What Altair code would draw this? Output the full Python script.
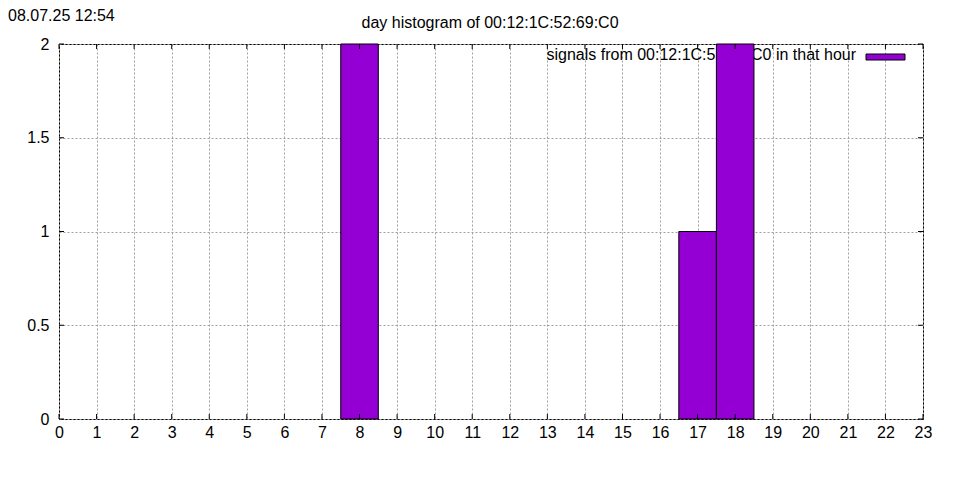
import altair as alt
import pandas as pd

hours = list(range(24))
counts = [0, 0, 0, 0, 0, 0, 0, 0, 2, 0, 0, 0, 0, 0, 0, 0, 0, 1, 2, 0, 0, 0, 0, 0]
y_ticks = [0, 0.5, 1, 1.5, 2]
title_text = "day histogram of 00:12:1C:52:69:C0"
stamp_text = "08.07.25 12:54"
legend_text = "signals from 00:12:1C:52:69:C0 in that hour"

W, H = 864, 375
FONT = "Liberation Sans"
PURPLE = "#9400D3"
GRID = "#a0a0a0"
DASH = [2, 2]
TICK = 5

df = pd.DataFrame({"hour": hours, "count": counts})
df_bars = df[df["count"] > 0].copy()
df_bars["x0"] = df_bars["hour"] - 0.5
df_bars["x1"] = df_bars["hour"] + 0.5
df_bars["base"] = 0
df_y = pd.DataFrame({"v": y_ticks})
one = pd.DataFrame({"k": [0]})

xscale = alt.Scale(domain=[0, 23], nice=False, zero=False)
yscale = alt.Scale(domain=[0, 2], nice=False)

x_axis = alt.Axis(values=hours, grid=True, gridDash=DASH, gridColor=GRID, gridOpacity=1,
                  tickSize=0, labelPadding=5, labelFontSize=16, labelFont=FONT,
                  labelColor="black", domain=False, title=None, labelFlush=False,
                  labelOverlap=False)
y_axis = alt.Axis(values=y_ticks, grid=True, gridDash=DASH, gridColor=GRID, gridOpacity=1,
                  tickSize=0, labelPadding=10, labelFontSize=16, labelFont=FONT,
                  labelColor="black", domain=False, title=None, format="~g",
                  labelFlush=False, labelOverlap=False)


def X(field):
    return alt.X(field, scale=xscale, axis=x_axis)


def Y(field):
    return alt.Y(field, scale=yscale, axis=y_axis)


# legend text (drawn beneath bars like the original)
leg_text = alt.Chart(one).mark_text(align="right", baseline="middle", font=FONT,
                                    fontSize=16, color="black").encode(
    x=alt.value(797), y=alt.value(11), text=alt.value(legend_text))
leg_box = alt.Chart(one).mark_rect(fill=PURPLE, stroke="black", strokeWidth=1).encode(
    x=alt.value(807), x2=alt.value(846), y=alt.value(10), y2=alt.value(16))

bars = alt.Chart(df_bars).mark_rect(fill=PURPLE, stroke="black", strokeWidth=1).encode(
    x=X("x0:Q"),
    x2="x1:Q",
    y=Y("count:Q"),
    y2="base:Q",
)

# inward tick marks on all four sides
xt_bottom = alt.Chart(df).mark_rule(color="black", strokeWidth=1).encode(
    x=X("hour:Q"), y=alt.value(H), y2=alt.value(H - TICK))
xt_top = alt.Chart(df).mark_rule(color="black", strokeWidth=1).encode(
    x=X("hour:Q"), y=alt.value(0), y2=alt.value(TICK))
yt_left = alt.Chart(df_y).mark_rule(color="black", strokeWidth=1).encode(
    y=Y("v:Q"), x=alt.value(0), x2=alt.value(TICK))
yt_right = alt.Chart(df_y).mark_rule(color="black", strokeWidth=1).encode(
    y=Y("v:Q"), x=alt.value(W), x2=alt.value(W - TICK))

title = alt.Chart(one).mark_text(align="center", baseline="alphabetic", font=FONT,
                                 fontSize=16, color="black").encode(
    x=alt.value(431), y=alt.value(-16), text=alt.value(title_text))
stamp = alt.Chart(one).mark_text(align="left", baseline="alphabetic", font=FONT,
                                 fontSize=16, color="black").encode(
    x=alt.value(-51), y=alt.value(-23), text=alt.value(stamp_text))

chart = alt.layer(leg_text, leg_box, bars, xt_bottom, xt_top, yt_left, yt_right,
                  title, stamp).properties(
    width=W, height=H,
    autosize=alt.AutoSizeParams(type="none"),
    padding={"left": 51, "top": 36, "right": 29, "bottom": 53},
    background="white",
).configure_view(stroke="black", strokeWidth=1)

chart.save("out.html", embed_options={"renderer": "svg", "actions": False})
